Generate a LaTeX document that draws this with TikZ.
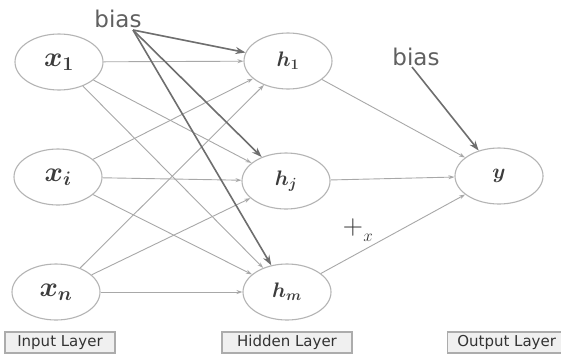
\RequirePackage{fix-cm}
\documentclass[tikz,border=0pt]{standalone}
\usepackage{fontspec}
\setsansfont{DejaVu Sans}
\usetikzlibrary{shapes.geometric,arrows.meta}
\definecolor{edgegray}{HTML}{A8A8A8}
\definecolor{ringgray}{HTML}{B4B4B4}
\definecolor{biasgray}{HTML}{6E6E6E}
\definecolor{labgray}{HTML}{3C3C3C}
\tikzset{
  neuron/.style={ellipse, draw=ringgray, line width=1.1pt, fill=white, minimum width=88pt, minimum height=56pt, inner sep=0pt, text=labgray},
  inlab/.style={font=\fontsize{28}{30}\selectfont\boldmath},
  hidlab/.style={font=\fontsize{21}{23}\selectfont\boldmath},
  conn/.style={draw=edgegray, line width=0.9pt, -{Stealth[length=6pt,width=4pt]}},
  biasarrow/.style={draw=biasgray, line width=1.6pt, -{Stealth[length=10pt,width=7pt]}},
  biastext/.style={font=\sffamily\fontsize{23}{25}\selectfont, text=gray!75!black},
  marktext/.style={text=gray!40!black, inner sep=0pt},
  layerbox/.style={draw=gray!65, line width=1.3pt, fill=gray!12, minimum height=21pt, inner sep=2pt, font=\sffamily\fontsize{15}{17}\selectfont, text=gray!40!black}
}
\begin{document}
\begin{tikzpicture}[x=1pt,y=-1pt]
\useasboundingbox (0,0) rectangle (561,354);
\fill[white] (0,0) rectangle (561,354);
% input layer
\node[neuron,inlab] (x1) at (59,62) {$x_1$};
\node[neuron,inlab] (xi) at (58,177) {$x_i$};
\node[neuron,inlab] (xn) at (56,292) {$x_n$};
% hidden layer
\node[neuron,hidlab] (h1) at (288,61) {$h_1$};
\node[neuron,hidlab] (hj) at (286,181) {$h_j$};
\node[neuron,hidlab] (hm) at (287,292) {$h_m$};
% output
\node[neuron,hidlab] (y) at (499,176) {$y$};
% input -> hidden
\foreach \a in {x1,xi,xn}{
  \foreach \b in {h1,hj,hm}{
    \draw[conn] (\a) -- (\b);
  }
}
% hidden -> output
\foreach \b in {h1,hj,hm}{
  \draw[conn] (\b) -- (y);
}
% bias
\node[biastext] (bias1) at (118,19) {bias};
\coordinate (bo1) at (133,30);
\draw[biasarrow] (bo1) -- (h1);
\draw[biasarrow] (bo1) -- (hj);
\draw[biasarrow] (bo1) -- (hm);
\node[biastext] (bias2) at (416,57) {bias};
\coordinate (bo2) at (412,67);
\draw[biasarrow] (bo2) -- (y);
% weight mark
\node[marktext, font=\fontsize{28}{30}\selectfont] (wplus) at (353,227) {$+$};
\node[marktext, font=\fontsize{17}{19}\selectfont] (wx) at (368,238) {$x$};
% layer labels
\node[layerbox, minimum width=110pt] (inl) at (60,342.5) {Input Layer};
\node[layerbox, minimum width=130pt] (hidl) at (287,342.5) {Hidden Layer};
\node[layerbox, minimum width=118pt, anchor=west] (outl) at (447,342.5) {Output Layer};
\end{tikzpicture}
\end{document}
